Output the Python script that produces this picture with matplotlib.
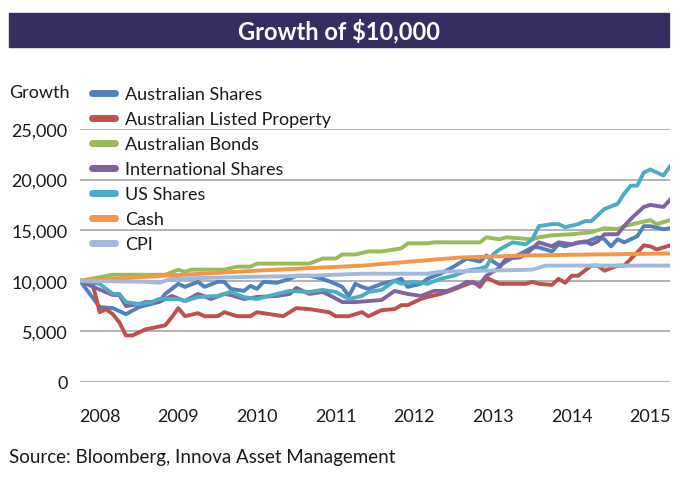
import matplotlib
matplotlib.use("Agg")
import matplotlib.pyplot as plt
from matplotlib.lines import Line2D
from matplotlib.patches import Rectangle
from matplotlib.ticker import FuncFormatter

plt.rcParams["font.family"] = ["Lato", "DejaVu Sans"]

# months since start of series (Oct 2007 = 0) and value of $10,000 invested
aus_shares_m = [0, 3, 5, 7, 9, 12, 13, 15, 16, 18, 19, 21, 22, 23, 25, 26, 27, 28, 30, 32, 33, 35, 37, 39, 40,
                41, 42, 43, 44, 46, 48, 49, 50, 52, 53, 55, 57, 59, 61, 62, 63, 64, 66, 67, 69, 70, 72, 73, 74,
                76, 77, 79, 80, 81, 82, 83, 85, 86, 87, 89, 90]
aus_shares = [10000, 7400, 7300, 6700, 7400, 7900, 8700, 9700, 9400, 9900, 9400, 9900, 9900, 9200, 9000, 9500,
              9200, 9900, 9800, 10200, 10500, 10500, 10200, 9700, 9400, 8500, 9700, 9400, 9200, 9700, 10000,
              10200, 9400, 9700, 10200, 10700, 11400, 12200, 11900, 12500, 11900, 11500, 12300, 12600, 13300,
              13300, 12900, 13600, 13400, 13800, 13800, 14300, 14100, 13400, 14100, 13800, 14400, 15400, 15400,
              15100, 15200]

property_m = [0, 2, 3, 4, 5, 6, 7, 8, 9, 10, 13, 14, 15, 16, 18, 19, 21, 22, 24, 26, 27, 29, 31, 33, 35, 37, 38,
              39, 41, 43, 44, 46, 48, 49, 50, 52, 53, 55, 56, 58, 60, 61, 62, 64, 66, 68, 69, 70, 72, 73, 74, 75,
              76, 77, 78, 79, 80, 82, 83, 85, 86, 87, 88, 90]
property_vals = [10000, 9500, 6900, 7200, 6700, 5900, 4600, 4600, 4900, 5200, 5600, 6400, 7300, 6500, 6800, 6500,
                 6500, 6900, 6500, 6500, 6900, 6700, 6500, 7300, 7200, 7000, 6900, 6500, 6500, 6900, 6500, 7100,
                 7200, 7600, 7600, 8200, 8400, 8700, 8900, 9400, 9900, 9400, 10300, 9700, 9700, 9700, 9900, 9700,
                 9600, 10200, 9800, 10500, 10500, 11000, 11500, 11500, 11000, 11500, 11500, 12800, 13500, 13400,
                 13100, 13500]

bonds_m = [0, 5, 13, 15, 16, 17, 22, 24, 26, 27, 35, 37, 39, 40, 42, 44, 46, 47, 49, 50, 53, 54, 61, 62, 64, 65,
           69, 70, 72, 75, 78, 80, 82, 83, 85, 87, 88, 90]
bonds = [10000, 10600, 10600, 11100, 10900, 11100, 11100, 11400, 11400, 11700, 11700, 12200, 12200, 12600, 12600,
         12900, 12900, 13000, 13200, 13700, 13700, 13800, 13800, 14300, 14100, 14300, 14100, 14300, 14500, 14600,
         14800, 15200, 15100, 15400, 15700, 16000, 15600, 16000]

intl_m = [0, 2, 5, 6, 7, 9, 10, 12, 14, 16, 18, 20, 22, 23, 25, 27, 30, 32, 33, 35, 37, 38, 40, 42, 44, 46, 48,
          50, 52, 54, 56, 58, 59, 61, 62, 64, 65, 67, 68, 69, 70, 72, 73, 75, 77, 78, 79, 80, 82, 83, 84, 86, 87,
          89, 90]
intl_shares = [10000, 9400, 8600, 8600, 7500, 7700, 7900, 7900, 8500, 8000, 8700, 8200, 8700, 8600, 8200, 8400,
               8500, 8700, 9300, 8700, 8900, 8600, 7900, 7900, 8000, 8100, 9000, 8700, 8500, 9000, 9000, 9500,
               9900, 9700, 10500, 11300, 12200, 12300, 12600, 13200, 13800, 13400, 13800, 13600, 13900, 13600,
               13900, 14600, 14600, 15400, 16100, 17300, 17500, 17300, 18000]

us_m = [0, 3, 5, 6, 7, 9, 11, 12, 15, 16, 18, 21, 23, 25, 27, 30, 32, 35, 37, 39, 41, 43, 44, 46, 48, 49, 51, 53,
        55, 57, 59, 61, 62, 63, 64, 66, 68, 69, 70, 72, 73, 74, 76, 77, 78, 79, 80, 82, 83, 84, 85, 86, 87, 89, 90]
us_shares = [10000, 9700, 8700, 8700, 7900, 7700, 7900, 8200, 8200, 8000, 8400, 8500, 8900, 8400, 8200, 8700,
             9000, 8900, 9100, 8900, 8200, 8500, 8900, 9100, 10000, 9700, 9900, 9700, 10200, 10500, 11000, 11200,
             11400, 12600, 13100, 13800, 13600, 14100, 15400, 15600, 15600, 15300, 15600, 15900, 15900, 16500,
             17100, 17600, 18600, 19400, 19400, 20700, 21000, 20400, 21300]

cash_m = [0, 5, 13, 27, 43, 58, 68, 78, 90]
cash = [10000, 10200, 10500, 11000, 11500, 12300, 12500, 12600, 12700]

cpi_m = [0, 10, 12, 14, 20, 27, 35, 43, 53, 55, 69, 71, 90]
cpi = [10000, 9900, 9800, 10200, 10300, 10400, 10500, 10700, 10700, 10900, 11100, 11500, 11500]

year_ticks = [3, 15, 27, 39, 51, 63, 75, 87]
year_labels = ["2008", "2009", "2010", "2011", "2012", "2013", "2014", "2015"]

series = [
    ("Australian Shares", aus_shares_m, aus_shares, "#4f81bd"),
    ("Australian Listed Property", property_m, property_vals, "#c0504d"),
    ("Australian Bonds", bonds_m, bonds, "#9bbb59"),
    ("International Shares", intl_m, intl_shares, "#8064a2"),
    ("US Shares", us_m, us_shares, "#4bacc6"),
    ("Cash", cash_m, cash, "#f79646"),
    ("CPI", cpi_m, cpi, "#a3b8de"),
]

text_col = "#1a1a1a"
fig = plt.figure(figsize=(6.84, 4.81), dpi=100)

# title banner
fig.patches.append(Rectangle((9 / 684, 1 - 48 / 481), 660 / 684, 34 / 481,
                             transform=fig.transFigure, color="#372d62", zorder=0))
fig.text(339 / 684, 1 - 31 / 481, "Growth of $10,000", color="white", weight="bold",
         size=17, ha="center", va="center")

ax = fig.add_axes([80 / 684, 1 - 383 / 481, 590 / 684, 253 / 481])
for name, xm, yv, col in series:
    ax.plot(xm, yv, color=col, lw=2.8, solid_joinstyle="round", label=name)

ax.set_xlim(0, 90)
ax.set_ylim(0, 25000)
ax.set_yticks(range(0, 25001, 5000))
ax.yaxis.set_major_formatter(FuncFormatter(lambda v, p: f"{int(v):,}"))
ax.set_xticks(year_ticks)
ax.set_xticklabels(year_labels)
ax.yaxis.grid(True, color="#a6a6a6", lw=1.2)
ax.set_axisbelow(True)
for s in ax.spines.values():
    s.set_visible(False)
ax.tick_params(axis="both", length=0, labelsize=13, colors=text_col)
ax.tick_params(axis="y", pad=9)
ax.tick_params(axis="x", pad=19)

fig.text(9 / 684, 1 - 93 / 481, "Growth", size=13, color=text_col, va="center")
fig.text(9 / 684, 1 - 458 / 481, "Source: Bloomberg, Innova Asset Management", size=13.5,
         color=text_col, va="center")

handles = [Line2D([0], [0], color=c, lw=5, solid_capstyle="round") for _, _, _, c in series]
fig.legend(handles, [s[0] for s in series], loc="upper left", bbox_to_anchor=(92 / 684, 1 - 87 / 481),
           frameon=False, fontsize=13, labelspacing=0.5, handlelength=1.25, handletextpad=0.6,
           borderaxespad=0, borderpad=0, labelcolor=text_col)

fig.savefig("out.png", dpi=100)
